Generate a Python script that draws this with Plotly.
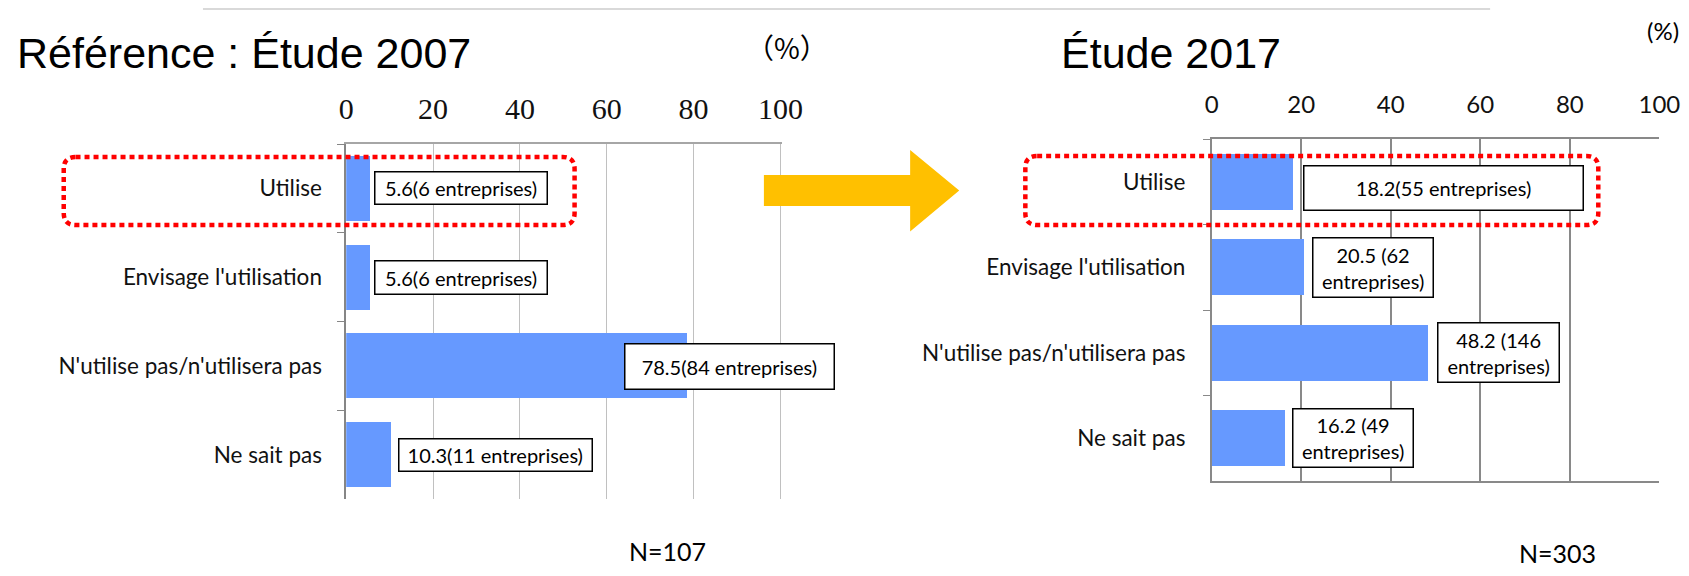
import plotly.graph_objects as go

# data
categories = ["Utilise", "Envisage l'utilisation", "N'utilise pas/n'utilisera pas", "Ne sait pas"]
pct_2007 = [5.6, 5.6, 78.5, 10.3]
pct_2017 = [18.2, 20.5, 48.2, 16.2]
labels_2007 = ["5.6(6 entreprises)", "5.6(6 entreprises)", "78.5(84 entreprises)", "10.3(11 entreprises)"]
labels_2017 = ["18.2(55 entreprises)", "20.5 (62<br>entreprises)", "48.2 (146<br>entreprises)", "16.2 (49<br>entreprises)"]
x_ticks = [0, 20, 40, 60, 80, 100]

# The page keeps the browser's 8px body margin and the photo comes out
# slightly squeezed sideways, so positions are given in photo pixels and
# mapped back to figure pixels here.
OFF = 8
SQ, SHIFT = 0.982, 7.5
FW, FH = 1712, 560
BAR = '#6699ff'
SANS = 'Lato, Carlito, Calibri, sans-serif'
ARIAL = 'Liberation Sans, Arial, sans-serif'


def px(x):
    return ((x - SHIFT) / SQ - OFF) / FW


def py(y):
    return 1 - (y - OFF) / FH


def rounded_rect(x0, y0, x1, y1, r):
    # pixel box -> svg path in paper coords with rounded corners
    rx, ry = r / FW, r / FH
    a, b, c, d = px(x0), py(y0), px(x1), py(y1)
    return (f"M{a+rx},{b} L{c-rx},{b} Q{c},{b} {c},{b-ry} "
            f"L{c},{d+ry} Q{c},{d} {c-rx},{d} L{a+rx},{d} "
            f"Q{a},{d} {a},{d+ry} L{a},{b-ry} Q{a},{b} {a+rx},{b} Z")


fig = go.Figure()

fig.add_trace(go.Bar(
    x=pct_2007, y=categories, orientation='h', width=0.73,
    marker=dict(color=BAR, line=dict(width=0)),
    xaxis='x', yaxis='y', showlegend=False, hoverinfo='x+y'
))
fig.add_trace(go.Bar(
    x=pct_2017, y=categories, orientation='h', width=0.66,
    marker=dict(color=BAR, line=dict(width=0)),
    xaxis='x2', yaxis='y2', showlegend=False, hoverinfo='x+y'
))

# left axis is a hair wider than 100 so the 100 gridline stays visible
fig.update_layout(
    width=FW, height=FH, autosize=False,
    margin=dict(l=0, r=0, t=0, b=0),
    paper_bgcolor='white', plot_bgcolor='white',
    bargap=0,
    xaxis=dict(
        domain=[px(346), px(346 + 433.5 * 1.003)], range=[0, 100.3], side='top',
        tickvals=x_ticks, showgrid=True, gridcolor='#c0c0c0', gridwidth=1.2,
        zeroline=False, showline=True, linecolor='#a6a6a6', linewidth=1.5,
        ticks='', ticklabelstandoff=11,
        tickfont=dict(family='Liberation Serif, DejaVu Serif, serif', size=30, color='#111'),
        fixedrange=True,
    ),
    yaxis=dict(
        domain=[py(499), py(144)], autorange='reversed', anchor='x',
        showline=True, linecolor='#868686', linewidth=1.5,
        ticks='outside', tickson='boundaries', ticklen=7, tickcolor='#868686',
        showgrid=False, ticklabelstandoff=18,
        tickfont=dict(family=SANS, size=22.5, color='#111'),
        fixedrange=True,
    ),
    xaxis2=dict(
        domain=[px(1210), px(1657)], range=[0, 100], side='top', anchor='y2',
        tickvals=x_ticks, showgrid=True, gridcolor='#898989', gridwidth=1.5,
        zeroline=False, showline=True, mirror=True, linecolor='#898989', linewidth=1.5,
        ticks='', ticklabelstandoff=15,
        tickfont=dict(family=SANS, size=24, color='#111'),
        fixedrange=True,
    ),
    yaxis2=dict(
        domain=[py(481), py(139)], autorange='reversed', anchor='x2',
        showline=True, linecolor='#898989', linewidth=1.5,
        ticks='outside', tickson='boundaries', ticklen=7, tickcolor='#898989',
        showgrid=False, ticklabelstandoff=20,
        tickfont=dict(family=SANS, size=22.5, color='#111'),
        fixedrange=True,
    ),
)

shapes = []
# header box cut at the top, only its shadow reaches into view
shapes.append(dict(type='rect', xref='paper', yref='paper', layer='below',
                   x0=px(203), x1=px(1488), y0=py(-20), y1=py(10),
                   fillcolor='rgba(0,0,0,0.15)', line=dict(width=0)))
shapes.append(dict(type='rect', xref='paper', yref='paper',
                   x0=px(200), x1=px(1484), y0=py(-20), y1=py(5),
                   fillcolor='#dae3f3', line=dict(color='#4f81bd', width=2)))
# yellow arrow between the two studies
arrow = [(763, 175), (909, 175), (909, 150), (958, 190.5), (909, 231.5), (909, 206), (763, 206)]
path = 'M' + ' L'.join(f'{px(a)},{py(b)}' for a, b in arrow) + ' Z'
shapes.append(dict(type='path', xref='paper', yref='paper', path=path,
                   fillcolor='#ffc000', line=dict(width=0)))
# red dotted highlight around "Utilise"
for box in [(64, 157, 574, 225), (1024, 156, 1596, 225)]:
    shapes.append(dict(type='path', xref='paper', yref='paper', layer='above',
                       path=rounded_rect(*box, 12),
                       line=dict(color='#ff0000', width=4.5, dash='5px,4px')))
fig.update_layout(shapes=shapes)

ann = []
# value boxes: (x centre in data units, yshift, box width, box height)
box_2007 = [(26.5, 0, 171, 34), (26.5, 0, 171, 35), (88.3, -1, 207, 47), (34.3, 0, 191, 34)]
box_2017 = [(51.7, -6, 276, 46), (36.1, 0, 120, 61), (64.0, 0, 121, 61), (31.6, 0, 120, 60)]
for (xa, ya), labs, boxes in [(('x', 'y'), labels_2007, box_2007), (('x2', 'y2'), labels_2017, box_2017)]:
    for cat, lab, (xc, ys, bw, bh) in zip(categories, labs, boxes):
        ann.append(dict(xref=xa, yref=ya, x=xc, y=cat, yshift=ys, text=lab,
                        showarrow=False, width=bw / SQ - 3, height=bh - 3,
                        bgcolor='white', bordercolor='black', borderwidth=1.5, borderpad=0,
                        font=dict(family=SANS, size=20, color='black'), align='center'))

ann += [
    dict(xref='paper', yref='paper', x=0, y=py(53), xanchor='left', yanchor='middle',
         text='Référence : Étude 2007', showarrow=False,
         font=dict(family=ARIAL, size=43, color='black')),
    dict(xref='paper', yref='paper', x=px(1058), y=py(53), xanchor='left', yanchor='middle',
         text='Étude 2017', showarrow=False,
         font=dict(family=ARIAL, size=43, color='black')),
    dict(xref='paper', yref='paper', x=px(786), y=py(47), xanchor='center', yanchor='middle',
         text='（%）', showarrow=False,
         font=dict(family='Noto Sans CJK JP, Noto Sans CJK SC, sans-serif', size=28, color='black')),
    dict(xref='paper', yref='paper', x=px(1661), y=py(31), xanchor='center', yanchor='middle',
         text='(%)', showarrow=False,
         font=dict(family=SANS, size=24, color='black')),
    dict(xref='paper', yref='paper', x=px(667), y=py(551), xanchor='center', yanchor='middle',
         text='N=107', showarrow=False,
         font=dict(family=SANS, size=25, color='black')),
    dict(xref='paper', yref='paper', x=px(1555), y=py(553), xanchor='center', yanchor='middle',
         text='N=303', showarrow=False,
         font=dict(family=SANS, size=25, color='black')),
]
fig.update_layout(annotations=ann)

fig.write_html("out.html", config={'displayModeBar': False})
